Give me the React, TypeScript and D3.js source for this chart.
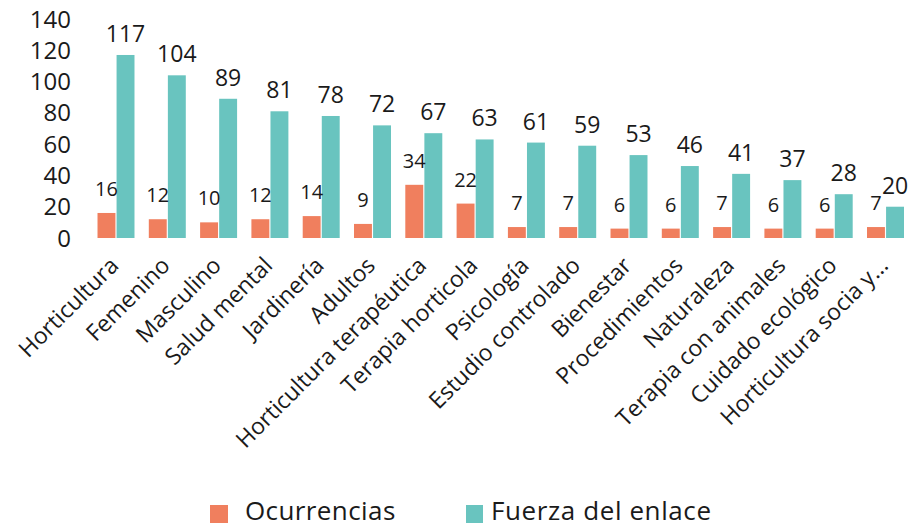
import * as d3 from "d3";

const categories = [
  "Horticultura",
  "Femenino",
  "Masculino",
  "Salud mental",
  "Jardinería",
  "Adultos",
  "Horticultura terapéutica",
  "Terapia horticola",
  "Psicología",
  "Estudio controlado",
  "Bienestar",
  "Procedimientos",
  "Naturaleza",
  "Terapia con animales",
  "Cuidado ecológico",
  "Horticultura socia y...",
];
const ocurrencias = [16, 12, 10, 12, 14, 9, 34, 22, 7, 7, 6, 6, 7, 6, 6, 7];
const fuerza = [117, 104, 89, 81, 78, 72, 67, 63, 61, 59, 53, 46, 41, 37, 28, 20];
const yTicks = [0, 20, 40, 60, 80, 100, 120, 140];
const seriesNames = ["Ocurrencias", "Fuerza del enlace"];

const ORANGE = "#F07F5E";
const TEAL = "#69C4BF";
const TEXT = "#1a1a1a";
const FONT = "'Open Sans', 'Noto Sans', sans-serif";

export default function App() {
  const width = 916;
  const height = 528;
  const x = d3
    .scaleBand()
    .domain(categories)
    .range([90.35, 911.15])
    .paddingInner(0.279)
    .paddingOuter(0.1395);
  const inner = d3
    .scaleBand()
    .domain(seriesNames)
    .range([0, x.bandwidth()])
    .paddingInner(0.06);
  const y = d3.scaleLinear().domain([0, 140]).range([238, 19]);
  const color = d3.scaleOrdinal<string>().domain(seriesNames).range([ORANGE, TEAL]);

  return (
    <svg
      width={width}
      height={height}
      style={{ position: "absolute", left: 0, top: 0, background: "#fff" }}
      fontFamily={FONT}
    >
      {yTicks.map((tick) => (
        <text
          key={tick}
          x={71}
          y={y(tick)}
          dy="0.36em"
          textAnchor="end"
          fontSize={24}
          fill={TEXT}
        >
          {tick}
        </text>
      ))}
      {categories.map((cat, i) => {
        const gx = x(cat) ?? 0;
        const oX = gx + (inner(seriesNames[0]) ?? 0);
        const tX = gx + (inner(seriesNames[1]) ?? 0);
        const bw = inner.bandwidth();
        const cx = gx + x.bandwidth() / 2;
        return (
          <g key={cat}>
            <rect
              x={oX}
              y={y(ocurrencias[i])}
              width={bw}
              height={y(0) - y(ocurrencias[i])}
              fill={color(seriesNames[0])}
            />
            <rect
              x={tX}
              y={y(fuerza[i])}
              width={bw}
              height={y(0) - y(fuerza[i])}
              fill={color(seriesNames[1])}
            />
            <text
              x={oX + bw / 2}
              y={y(ocurrencias[i]) - 17}
              textAnchor="middle"
              fontSize={20}
              fill={TEXT}
            >
              {ocurrencias[i]}
            </text>
            <text
              x={tX + bw / 2}
              y={y(fuerza[i]) - 13}
              textAnchor="middle"
              fontSize={23}
              fill={TEXT}
            >
              {fuerza[i]}
            </text>
            <text
              transform={`translate(${cx + 4}, 267) rotate(-45)`}
              textAnchor="end"
              fontSize={23}
              fill={TEXT}
            >
              {cat}
            </text>
          </g>
        );
      })}
      <g>
        <rect x={210} y={505} width={18} height={18} fill={ORANGE} />
        <text x={245} y={520} fontSize={26} letterSpacing={0.4} fill={TEXT}>
          {seriesNames[0]}
        </text>
        <rect x={466} y={505} width={17} height={18} fill={TEAL} />
        <text x={491} y={520} fontSize={26} letterSpacing={0.6} fill={TEXT}>
          {seriesNames[1]}
        </text>
      </g>
    </svg>
  );
}
